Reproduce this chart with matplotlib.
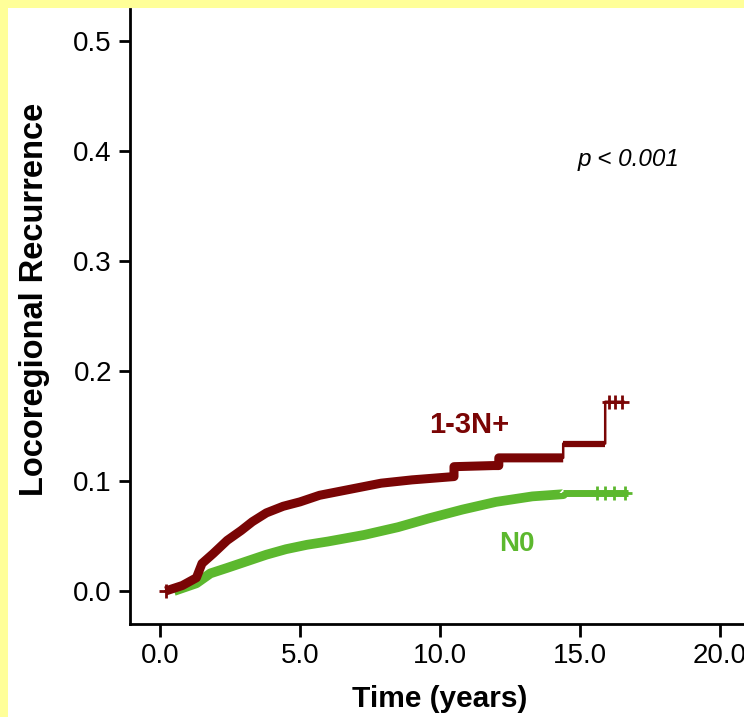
import matplotlib
matplotlib.use("Agg")
import matplotlib.pyplot as plt
from matplotlib.patches import Rectangle

plt.rcParams['font.family'] = ['Liberation Sans', 'DejaVu Sans']

# ---- data ----
red_t = [0.2, 0.8, 1.3, 1.5, 1.9, 2.4, 2.9, 3.3, 3.8, 4.4, 5.0, 5.7, 6.3, 6.7, 7.9, 9.0,
         10.5, 10.5, 11.9, 12.1, 12.1, 14.4, 14.4, 15.9, 15.9, 16.55]
red_v = [0.0, 0.005, 0.012, 0.025, 0.034, 0.046, 0.055, 0.063, 0.071, 0.077, 0.081, 0.087,
         0.090, 0.092, 0.098, 0.101, 0.104, 0.113, 0.114, 0.114, 0.121, 0.121, 0.134, 0.134,
         0.172, 0.172]
red_cens_t = [16.05, 16.25, 16.5]

green_t = [0.5, 1.3, 1.8, 2.4, 3.1, 3.8, 4.5, 5.25, 6.0, 7.3, 8.5, 9.6, 10.8, 12.0, 13.3,
           14.4, 14.4, 16.7]
green_v = [0.0, 0.007, 0.016, 0.021, 0.027, 0.033, 0.038, 0.042, 0.045, 0.051, 0.058,
           0.066, 0.074, 0.081, 0.086, 0.088, 0.089, 0.089]
green_cens_t = [15.6, 15.9, 16.2, 16.6]

x_ticks = [0, 5, 10, 15, 20]
x_ticklabels = ["0.0", "5.0", "10.0", "15.0", "20.0"]
y_ticks = [0.0, 0.1, 0.2, 0.3, 0.4, 0.5]
y_ticklabels = ["0.0", "0.1", "0.2", "0.3", "0.4", "0.5"]

RED = "#7a0505"
GREEN = "#5cb82e"

W, H = 744, 717
fig = plt.figure(figsize=(W / 100, H / 100), dpi=100)
fig.patch.set_facecolor("#ffff99")
fig.patches.append(Rectangle((8 / W, 0), 1 - 8 / W, 1 - 8 / H, transform=fig.transFigure,
                             facecolor="white", edgecolor="none", zorder=-10))

ax = fig.add_axes([130 / W, 1 - 624 / H, 1 - 130 / W, (624 - 9) / H])
ax.set_facecolor("none")
ax.set_zorder(5)
ax.set_xlim(-1.071, 20.857)
ax.set_ylim(-0.030, 0.529)

for s in ["top", "right"]:
    ax.spines[s].set_visible(False)
for s in ["left", "bottom"]:
    ax.spines[s].set_linewidth(2.0)
    ax.spines[s].set_color("black")

ax.set_xticks(x_ticks)
ax.set_xticklabels(x_ticklabels)
ax.set_yticks(y_ticks)
ax.set_yticklabels(y_ticklabels)
ax.tick_params(axis="both", direction="out", width=2.0, labelsize=20, colors="black")
ax.tick_params(axis="x", length=9, pad=5)
ax.tick_params(axis="y", length=8, pad=5)

# curves: thin base line
ax.plot(red_t, red_v, color=RED, lw=1.8, zorder=3)
ax.plot(green_t, green_v, color=GREEN, lw=1.8, zorder=2)

# thick part (dense censoring marks)
k = red_t.index(14.4)
ax.plot(red_t[:k + 1], red_v[:k + 1], color=RED, lw=6.5, solid_capstyle="butt",
        solid_joinstyle="round", zorder=3)
ax.plot(red_t[k + 1:k + 3], red_v[k + 1:k + 3], color=RED, lw=4.5, solid_capstyle="butt", zorder=3)
kg = green_t.index(14.4)
ax.plot(green_t[:kg + 2], green_v[:kg + 2], color=GREEN, lw=7, solid_capstyle="butt",
        solid_joinstyle="round", zorder=2)
ax.plot(green_t[kg + 1:], green_v[kg + 1:], color=GREEN, lw=5, solid_capstyle="butt", zorder=2)

# censor marks
ax.plot([red_t[0]] + red_cens_t, [red_v[0]] + [red_v[-1]] * len(red_cens_t),
        ls="none", marker="+", ms=10, mew=2, color=RED, zorder=4)
ax.plot(green_cens_t, [green_v[-1]] * len(green_cens_t), ls="none", marker="+", ms=10,
        mew=2, color=GREEN, zorder=2)

ax.text(11.05, 0.151, "1-3N+", color=RED, fontsize=21, fontweight="bold", ha="center", va="center")
ax.text(12.75, 0.043, "N0", color=GREEN, fontsize=20, fontweight="bold", ha="center", va="center")
ax.text(16.75, 0.392, "p < 0.001", color="black", fontsize=17.5, fontstyle="italic",
        ha="center", va="center")

fig.text(35 / W, 1 - 299 / H, "Locoregional Recurrence", rotation=90, fontsize=23.5,
         fontweight="bold", ha="center", va="center")
fig.text(440 / W, 1 - 699 / H, "Time (years)", fontsize=21.5, fontweight="bold",
         ha="center", va="center")

fig.savefig("out.png", dpi=100, facecolor=fig.get_facecolor())
